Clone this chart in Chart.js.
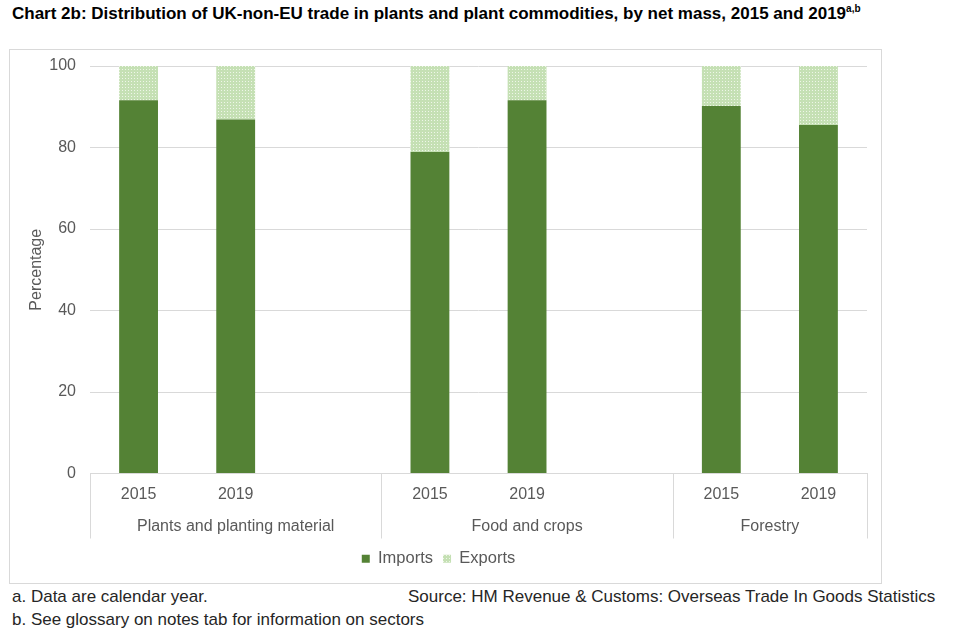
<!DOCTYPE html>
<html>
<head>
<meta charset="utf-8">
<script src="https://cdn.jsdelivr.net/npm/chart.js@4"></script>
<style>
  body { margin: 0; background: #fff; font-family: "Liberation Sans", Arial, sans-serif; width: 960px; height: 640px; position: relative; overflow: hidden; }
  #title { position: absolute; left: 12px; top: 3px; font-size: 17px; font-weight: bold; color: #000; white-space: nowrap; }
  #title sup { font-size: 10px; }
  #box { position: absolute; left: 9px; top: 49px; width: 873px; height: 535px; box-sizing: border-box; border: 1px solid #d9d9d9; }
  #wrap { position: absolute; left: 0; top: 0; width: 871px; height: 533px; }
  .note { position: absolute; font-size: 17px; color: #262626; white-space: nowrap; }
</style>
</head>
<body>
<div id="title">Chart 2b: Distribution of UK-non-EU trade in plants and plant commodities, by net mass, 2015 and 2019<sup>a,b</sup></div>
<div id="box"><div id="wrap"><canvas id="tradeChart"></canvas></div></div>
<div class="note" style="left:12px; top:587px;">a. Data are calendar year.</div>
<div class="note" style="left:408px; top:587px;">Source: HM Revenue &amp; Customs: Overseas Trade In Goods Statistics</div>
<div class="note" style="left:12px; top:610px;">b. See glossary on notes tab for information on sectors</div>
<script>
// slots on the x axis, blank ones separate the sectors
const years = ["2015", "2019", "", "2015", "2019", "", "2015", "2019"];
const sectors = ["Plants and planting material", "Food and crops", "Forestry"];
const sectorEnd = [2, 5, 7];
const imports = [91.6, 86.9, null, 78.9, 91.6, null, 90.2, 85.5];
const exports = [8.4, 13.1, null, 21.1, 8.4, null, 9.8, 14.5];
const yTicks = [0, 20, 40, 60, 80, 100];

const grey = "#595959";
const lineGrey = "#d9d9d9";
const font = "Liberation Sans";

// dotted light green fill for exports
function dotPattern() {
  let c = document.createElement("canvas");
  c.width = 3;
  c.height = 3;
  let g = c.getContext("2d");
  g.fillStyle = "#c5e0b4";
  g.fillRect(0, 0, 3, 3);
  g.fillStyle = "#eef6e8";
  g.fillRect(1, 1, 1, 1);
  return g.createPattern(c, "repeat");
}
const exportFill = dotPattern();

// sector labels and dividers under the year labels
const sectorAxis = {
  id: "sectorAxis",
  afterDraw(chart) {
    const ctx = chart.ctx;
    const x = chart.scales.x;
    const edge = (i) => (x.getPixelForValue(i) + x.getPixelForValue(i + 1)) / 2;
    ctx.save();
    ctx.strokeStyle = lineGrey;
    ctx.lineWidth = 1;
    const cuts = [x.left];
    for (let s = 0; s < sectors.length - 1; s++) cuts.push(edge(sectorEnd[s]));
    cuts.push(x.right);
    cuts.forEach((cx) => {
      ctx.beginPath();
      ctx.moveTo(Math.round(cx) + 0.5, x.top);
      ctx.lineTo(Math.round(cx) + 0.5, x.top + 65);
      ctx.stroke();
    });
    ctx.fillStyle = grey;
    ctx.font = "16px '" + font + "'";
    ctx.textAlign = "center";
    ctx.textBaseline = "middle";
    for (let s = 0; s < sectors.length; s++) {
      ctx.fillText(sectors[s], (cuts[s] + cuts[s + 1]) / 2, x.top + 53);
    }
    ctx.restore();
  },
};

new Chart(document.getElementById("tradeChart"), {
  type: "bar",
  data: {
    labels: years,
    datasets: [
      { label: "Imports", data: imports, backgroundColor: "#548235", categoryPercentage: 1, barPercentage: 0.4 },
      { label: "Exports", data: exports, backgroundColor: exportFill, categoryPercentage: 1, barPercentage: 0.4 },
    ],
  },
  options: {
    responsive: true,
    maintainAspectRatio: false,
    animation: false,
    layout: { padding: { top: 16, right: 14, bottom: 6, left: 0 } },
    plugins: {
      tooltip: { enabled: false },
      legend: {
        position: "bottom",
        labels: { color: grey, font: { family: font, size: 16.5 }, boxWidth: 8, boxHeight: 8, padding: 10 },
      },
    },
    scales: {
      x: {
        stacked: true,
        grid: { display: false },
        border: { display: true, color: lineGrey },
        ticks: { color: grey, font: { family: font, size: 16 }, padding: 3, maxRotation: 0 },
        afterFit(scale) { scale.height = 67; },
      },
      y: {
        stacked: true,
        min: 0,
        max: 100,
        afterBuildTicks(scale) { scale.ticks = yTicks.map((v) => ({ value: v })); },
        grid: { color: lineGrey, drawTicks: false },
        border: { display: false },
        ticks: { color: grey, font: { family: font, size: 16 }, padding: 14 },
        title: { display: true, text: "Percentage", color: grey, font: { family: font, size: 16 }, padding: { top: 17 } },
        afterFit(scale) {
          scale.width = 80;
          scale.paddingTop = 0;
          scale.paddingBottom = 0;
        },
      },
    },
  },
  plugins: [sectorAxis],
});
</script>
</body>
</html>
